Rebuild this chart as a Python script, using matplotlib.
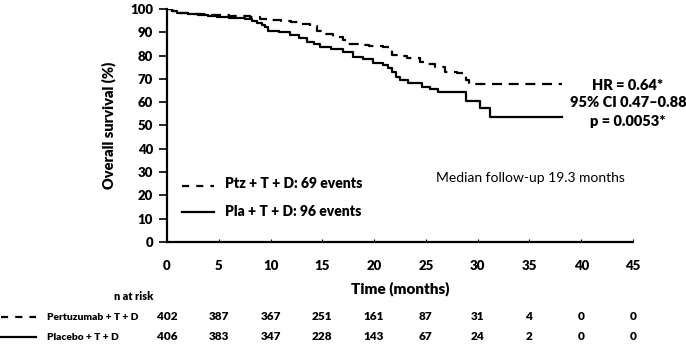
import matplotlib
matplotlib.use("Agg")
import matplotlib.pyplot as plt
from matplotlib.transforms import blended_transform_factory
from matplotlib.lines import Line2D

# ---- data ----
ptz_t = [0, 0.5, 1.0, 2, 3, 4, 5, 6, 7, 8, 9, 10, 11, 12, 13, 13.8, 14.5, 15.2, 16, 17,
         17.5, 18.5, 19.5, 20.9, 21.7, 22.5, 23.2, 24.4, 25.2, 25.9, 26.8, 28.0, 28.9, 29.2]
ptz_s = [100, 99.0, 98.3, 98.0, 97.8, 97.6, 97.4, 97.2, 96.9, 96.4, 95.8, 95.4, 95.0, 94.4, 93.6, 92.5,
         90.5, 89.3, 88.0, 86.8, 84.8, 84.5, 84.2, 83.8, 80.3, 79.8, 79.0, 77.4, 76.3, 75.2, 73.1, 72.5, 69.5, 67.7]
ptz_end = 38.1

pla_t = [0, 0.5, 1.0, 2, 3, 4, 4.8, 6, 6.7, 7.5, 8.2, 8.7, 9.2, 9.5, 9.8, 10.8, 11.9, 12.7, 13.5, 14.2,
         14.8, 15.8, 17.0, 18.0, 18.9, 19.9, 20.9, 21.3, 21.7, 22.1, 22.5, 23.3, 24.6, 25.4, 26.2,
         28.9, 30.2, 31.2]
pla_s = [100, 99.0, 98.2, 97.8, 97.5, 97.1, 96.7, 96.3, 96.0, 95.6, 95.0, 94.2, 93.3, 92.4, 90.7, 90.0,
         88.8, 87.5, 86.0, 85.0, 83.8, 82.8, 81.7, 79.5, 78.5, 76.8, 76.0, 74.5, 72.8, 71.0, 69.5, 68.4,
         66.7, 65.7, 64.3, 60.5, 57.6, 53.8]
pla_end = 38.1

risk_times = [0, 5, 10, 15, 20, 25, 30, 35, 40, 45]
risk_ptz = [402, 387, 367, 251, 161, 87, 31, 4, 0, 0]
risk_pla = [406, 383, 347, 228, 143, 67, 24, 2, 0, 0]

x_ticks = [0, 5, 10, 15, 20, 25, 30, 35, 40, 45]
y_ticks = [0, 10, 20, 30, 40, 50, 60, 70, 80, 90, 100]

FONT = "Lato"
plt.rcParams['font.family'] = [FONT, 'DejaVu Sans']
BW = 'heavy'

W, H = 686, 346
fig = plt.figure(figsize=(W / 100, H / 100), dpi=100)
ax = fig.add_axes([167 / W, (H - 242) / H, (633 - 167) / W, (242 - 9) / H])

lw = 1.6
ax.step(ptz_t + [ptz_end], ptz_s + [ptz_s[-1]], where='post', color='black', lw=lw,
        linestyle=(0, (4.5, 3)))
ax.step(pla_t + [pla_end], pla_s + [pla_s[-1]], where='post', color='black', lw=lw)

ax.set_xlim(0, 45)
ax.set_ylim(0, 100)
ax.set_xticks(x_ticks)
ax.set_yticks(y_ticks)
for s in ['top', 'right']:
    ax.spines[s].set_visible(False)
for s in ['left', 'bottom']:
    ax.spines[s].set_linewidth(1.6)
ax.tick_params(axis='y', direction='out', length=6, width=1.2, pad=4, labelsize=9.5)
ax.tick_params(axis='x', direction='in', length=2, width=0.8, pad=13, labelsize=9.5)
for lab in ax.get_xticklabels() + ax.get_yticklabels():
    lab.set_fontweight(BW)
ax.set_xlabel("Time (months)", fontsize=11, fontweight=BW, labelpad=7)
ax.set_ylabel("Overall survival (%)", fontsize=10.5, fontweight=BW, labelpad=10)

ft = fig.transFigure
def fx(px):
    return px / W
def fy(py):
    return 1 - py / H

# legend inside plot
fig.add_artist(Line2D([fx(182), fx(214)], [fy(186), fy(186)], color='black', lw=lw,
                      linestyle=(0, (3.2, 3.2))))
fig.add_artist(Line2D([fx(182), fx(214)], [fy(212), fy(212)], color='black', lw=lw))
fig.text(fx(225), fy(183), "Ptz + T + D: 69 events", fontsize=10, fontweight=BW, va='center', ha='left')
fig.text(fx(225), fy(211), "Pla + T + D: 96 events", fontsize=10, fontweight=BW, va='center', ha='left')

fig.text(fx(530), fy(178), "Median follow-up 19.3 months", fontsize=10, va='center', ha='center')
fig.text(fx(628), fy(85), "HR = 0.64*", fontsize=10.5, fontweight=BW, va='center', ha='center')
fig.text(fx(628), fy(103), "95% CI 0.47\u20130.88", fontsize=10.5, fontweight=BW, va='center', ha='center')
fig.text(fx(628), fy(122), "p = 0.0053*", fontsize=10.5, fontweight=BW, va='center', ha='center')

# risk table
fig.text(fx(134), fy(296), "n at risk", fontsize=7.8, fontweight=BW, va='center', ha='center')
fig.add_artist(Line2D([fx(1), fx(36)], [fy(317), fy(317)], color='black', lw=lw,
                      linestyle=(0, (3.2, 3.2))))
fig.add_artist(Line2D([fx(1), fx(36)], [fy(337), fy(337)], color='black', lw=lw))
fig.text(fx(47), fy(317), "Pertuzumab + T + D", fontsize=7.4, fontweight=BW, va='center', ha='left')
fig.text(fx(47), fy(337), "Placebo + T + D", fontsize=7.4, fontweight=BW, va='center', ha='left')
bt = blended_transform_factory(ax.transData, ft)
for t, a, b in zip(risk_times, risk_ptz, risk_pla):
    fig.text(t, fy(317), str(a), transform=bt, fontsize=8.5, fontweight=BW, va='center', ha='center')
    fig.text(t, fy(337), str(b), transform=bt, fontsize=8.5, fontweight=BW, va='center', ha='center')

fig.savefig("out.png", dpi=100)
